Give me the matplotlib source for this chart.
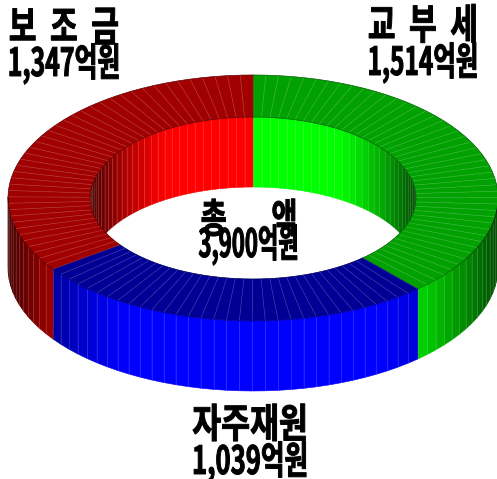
import numpy as np
import matplotlib
matplotlib.use("Agg")
import matplotlib.pyplot as plt
import matplotlib.patheffects as pe
from matplotlib.collections import PolyCollection, LineCollection
from matplotlib.transforms import Affine2D

plt.rcParams['font.family'] = ['Noto Sans CJK KR', 'DejaVu Sans']

# clockwise from 12 o'clock
names = ["교부세", "자주재원", "보조금"]
values = [1514, 1039, 1347]
# sizes of the wedges, they are a little off the printed amounts
wedge_sizes = [1492, 1051, 1357]
base_colors = [(0, 1, 0), (0, 0, 1), (1, 0, 0)]
top_shade = [0.63, 0.58, 0.63]

cx, cy = 253, 198
rx_out, ry_out = 245, 123
rx_in, ry_in = 163, 81
depth = 70
step = 3.0


class Squeeze(pe.AbstractPathEffect):
    # korean labels in the source are a condensed heavy face, so narrow and thicken the glyphs
    def __init__(self, sx, x0, stroke=0.7):
        super().__init__()
        self.sx = sx
        self.x0 = x0
        self.stroke = stroke

    def draw_path(self, renderer, gc, tpath, affine, rgbFace=None):
        squeeze = Affine2D().translate(-self.x0, 0).scale(self.sx, 1).translate(self.x0, 0)
        gc0 = renderer.new_gc()
        gc0.copy_properties(gc)
        gc0.set_foreground("black")
        gc0.set_linewidth(self.stroke)
        renderer.draw_path(gc0, tpath, affine + squeeze, rgbFace)
        gc0.restore()


def pt(theta, rx, ry, dz=0):
    t = np.radians(theta)
    return cx + rx * np.sin(t), cy - ry * np.cos(t) + dz


def wall_shade(theta):
    s = abs(np.sin(np.radians(theta)))
    return 1 - 0.72 * max(0, (s - 0.5) / 0.5) ** 1.4


fig = plt.figure(figsize=(4.97, 4.79), dpi=100)
ax = fig.add_axes([0, 0, 1, 1])
ax.set_xlim(0, 497)
ax.set_ylim(479, 0)
ax.axis("off")

edges = np.cumsum([0] + wedge_sizes) / sum(wedge_sizes) * 360

inner, inner_c, top, top_c, outer, outer_c = [], [], [], [], [], []
inner_l, top_l, outer_l = [], [], []
for i in range(len(wedge_sizes)):
    col = np.array(base_colors[i])
    n = int(round((edges[i + 1] - edges[i]) / step))
    th = np.linspace(edges[i], edges[i + 1], n + 1)
    for a, b in zip(th[:-1], th[1:]):
        mid = (a + b) / 2
        top.append([pt(a, rx_in, ry_in), pt(a, rx_out, ry_out), pt(b, rx_out, ry_out), pt(b, rx_in, ry_in)])
        top_c.append(col * top_shade[i])
        top_l.append([pt(a, rx_in, ry_in), pt(a, rx_out, ry_out)])
        if np.cos(np.radians(mid)) > -0.02:
            inner.append([pt(a, rx_in, ry_in), pt(b, rx_in, ry_in), pt(b, rx_in, ry_in, depth), pt(a, rx_in, ry_in, depth)])
            inner_c.append(col * wall_shade(mid))
            inner_l.append([pt(a, rx_in, ry_in), pt(a, rx_in, ry_in, depth)])
        if np.cos(np.radians(mid)) < 0.02:
            outer.append([pt(a, rx_out, ry_out), pt(b, rx_out, ry_out), pt(b, rx_out, ry_out, depth), pt(a, rx_out, ry_out, depth)])
            outer_c.append(col * wall_shade(mid))
            outer_l.append([pt(a, rx_out, ry_out), pt(a, rx_out, ry_out, depth)])

for polys, cols, lines, z, a in [(inner, inner_c, inner_l, 1, 0.2), (top, top_c, top_l, 2, 0.2), (outer, outer_c, outer_l, 3, 0.2)]:
    ax.add_collection(PolyCollection(polys, facecolors=cols, edgecolors=cols, linewidths=0.4, zorder=z))
    ax.add_collection(LineCollection(lines, colors="white", linewidths=0.5, alpha=a, zorder=z))

# dark rims round the top face and at the slice boundaries
th = np.linspace(0, 360, 361)
for rx, ry in [(rx_out, ry_out), (rx_in, ry_in)]:
    ax.plot(*zip(*[pt(t, rx, ry) for t in th]), color="black", lw=0.5, alpha=0.4, zorder=4)
for e in edges[:-1]:
    ax.plot(*zip(pt(e, rx_in, ry_in), pt(e, rx_out, ry_out)), color="black", lw=0.4, alpha=0.3, zorder=4)

label_text = ["보  조  금", "1,347억원", "교  부  세", "1,514억원", "총       액", "3,900억원", "자주재원", "1,039억원"]
label_x = [64, 64, 423, 423, 249, 248.5, 250, 250]
label_y = [29, 64, 27, 63, 221, 245, 426, 462]
label_size = [30, 28, 30, 28, 29, 28, 29, 28]
label_sx = [0.72, 0.64, 0.72, 0.63, 0.7, 0.57, 0.78, 0.66]

for s, x, y, fs, sx in zip(label_text, label_x, label_y, label_size, label_sx):
    x0 = ax.transData.transform((x, 0))[0]
    ax.text(x, y, s, ha="center", va="center", fontsize=fs, fontweight="bold", color="black",
            zorder=6, path_effects=[Squeeze(sx, x0)])

fig.savefig("out.png", dpi=100)
